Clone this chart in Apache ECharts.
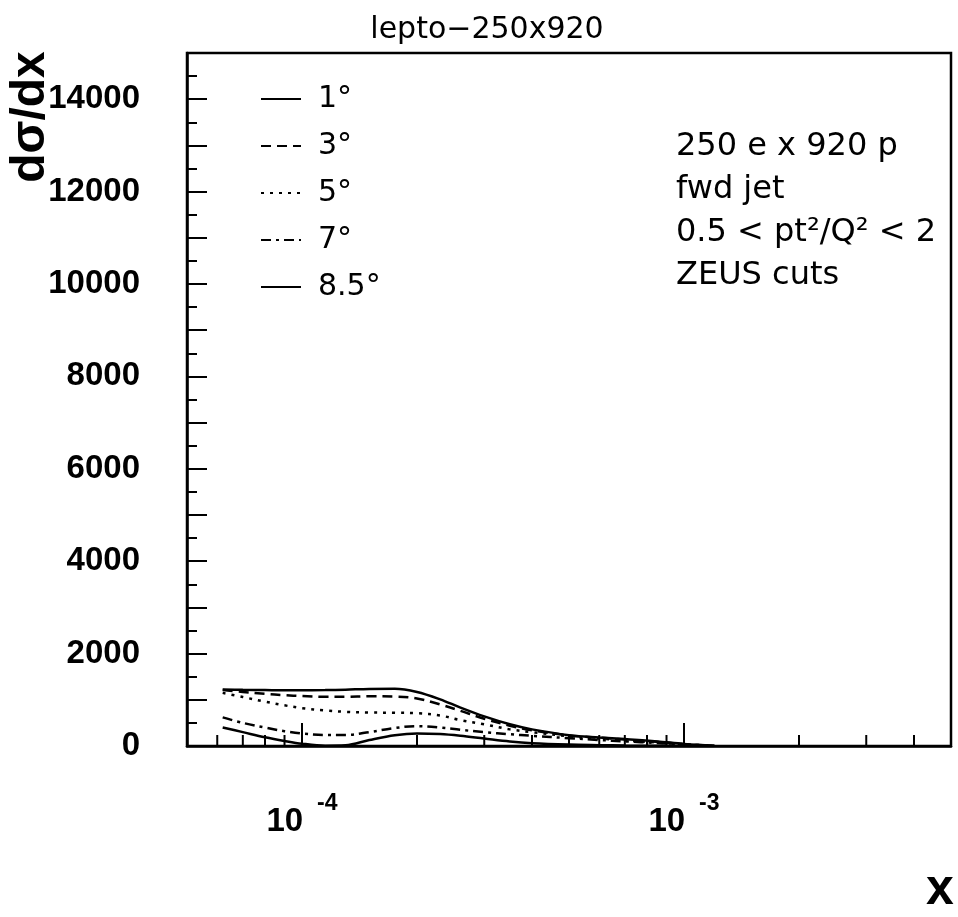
<!DOCTYPE html>
<html>
<head>
<meta charset="utf-8">
<script src="https://cdn.jsdelivr.net/npm/echarts@6/dist/echarts.min.js"></script>
<style>html,body{margin:0;padding:0;background:#fff;}#c{width:958px;height:917px;}</style>
</head>
<body>
<div id="c"></div>
<script>
// x values (bin positions) shared by all curves
const xValues = [6.2e-5, 7e-5, 8e-5, 9e-5, 1e-4, 1.15e-4, 1.3e-4, 1.5e-4, 1.75e-4, 2e-4, 2.3e-4, 2.6e-4, 3e-4, 3.5e-4, 4e-4, 5e-4, 6e-4, 7e-4, 8.5e-4, 1e-3, 1.2e-3];
const seriesNames = ['1°', '3°', '5°', '7°', '8.5°'];
const y1deg  = [1225,1215,1210,1205,1205,1210,1220,1235,1240,1170,1010,830,640,470,360,235,185,150,100,45,5];
const y3deg  = [1210,1170,1130,1100,1080,1065,1065,1075,1070,1030,900,760,590,440,340,230,180,140,90,40,5];
const y5deg  = [1150,1060,960,880,820,770,740,725,720,710,660,560,470,360,300,210,160,120,75,35,5];
const y7deg  = [620,500,400,320,270,240,240,300,390,430,400,350,300,255,220,170,130,100,65,30,5];
const y85deg = [400,300,190,110,50,8,15,130,235,272,258,220,160,97,60,30,18,10,5,2,0];
const xMinorTicks = [6e-5,7e-5,8e-5,9e-5,2e-4,3e-4,4e-4,5e-4,6e-4,7e-4,8e-4,9e-4,2e-3,3e-3,4e-3];
const yLabelValues = [0,2000,4000,6000,8000,10000,12000,14000];
const infoLines = ['250 e x 920 p', 'fwd jet', '0.5 < pt²/Q² < 2', 'ZEUS cuts'];
const titleText = 'lepto\u2212250x920';

const allY = [y1deg, y3deg, y5deg, y7deg, y85deg];
const dashTypes = ['solid', [10, 6], [3, 6], [10, 5, 3, 5], 'solid'];

const chart = echarts.init(document.getElementById('c'), null, {renderer: 'canvas'});

const lineSeries = seriesNames.map((name, i) => ({
  name: name,
  type: 'line',
  data: xValues.map((x, j) => [x, allY[i][j]]),
  smooth: 0.35,
  symbol: 'none',
  lineStyle: {color: '#000', width: 2.5, type: dashTypes[i]},
  itemStyle: {color: '#000'},
  z: 3
}));

const option = {
  backgroundColor: '#fff',
  animation: false,
  grid: {left: 187, right: 7, top: 53, bottom: 171, show: true, borderColor: '#000', borderWidth: 2.5, backgroundColor: 'transparent'},
  legend: {
    data: seriesNames,
    orient: 'vertical',
    left: 260,
    top: 84,
    padding: 0,
    itemWidth: 40,
    itemHeight: 14,
    itemGap: 17,
    selectedMode: false,
    itemStyle: {opacity: 0},
    textStyle: {fontFamily: 'DejaVu Sans', fontSize: 30, color: '#000', lineHeight: 30, padding: [0, 0, 0, 12]}
  },
  xAxis: {
    type: 'log',
    logBase: 10,
    min: 5e-5,
    max: 5e-3,
    axisLine: {show: true, lineStyle: {color: '#000', width: 2.5}},
    axisTick: {show: true, inside: true, length: 23, lineStyle: {color: '#000', width: 2}},
    splitLine: {show: false},
    axisLabel: {
      margin: 46,
      formatter: function (v) {
        const e = Math.log10(v);
        if (Math.abs(e - Math.round(e)) > 1e-6) return '';
        return '{b|10}{s|' + Math.round(e) + '}';
      },
      rich: {
        b: {fontFamily: 'Liberation Sans', fontWeight: 'bold', fontSize: 33, color: '#000', lineHeight: 46, verticalAlign: 'bottom'},
        s: {fontFamily: 'Liberation Sans', fontWeight: 'bold', fontSize: 23, color: '#000', lineHeight: 22, verticalAlign: 'top', padding: [0, 0, 0, 14]}
      }
    }
  },
  yAxis: {
    type: 'value',
    min: 0,
    max: 15000,
    interval: 1000,
    axisLine: {show: true, lineStyle: {color: '#000', width: 2.5}},
    axisTick: {show: true, inside: true, length: 20, lineStyle: {color: '#000', width: 2}},
    minorTick: {show: true, splitNumber: 2, length: 10, lineStyle: {color: '#000', width: 2}},
    splitLine: {show: false},
    minorSplitLine: {show: false},
    axisLabel: {
      margin: 47,
      fontFamily: 'Liberation Sans',
      fontWeight: 'bold',
      fontSize: 33,
      color: '#000',
      formatter: function (v) { return yLabelValues.indexOf(v) >= 0 ? String(v) : ''; }
    }
  },
  series: lineSeries.concat([{
    type: 'custom',
    name: 'minorX',
    data: xMinorTicks.map(x => [x, 0]),
    silent: true,
    z: 4,
    renderItem: function (params, api) {
      const p = api.coord([api.value(0), api.value(1)]);
      return {type: 'line', shape: {x1: p[0], y1: p[1], x2: p[0], y2: p[1] - 11}, style: {stroke: '#000', lineWidth: 2}};
    }
  }]),
  graphic: [
    {type: 'text', x: 487, y: 30, style: {text: titleText, fontFamily: 'DejaVu Sans', fontSize: 30, fill: '#000', align: 'center', verticalAlign: 'middle'}},
    {type: 'text', x: 31, y: 117, rotation: Math.PI / 2, style: {text: 'dσ/dx', fontFamily: 'Liberation Sans', fontWeight: 'bold', fontSize: 48, fill: '#000', align: 'center', verticalAlign: 'middle'}},
    {type: 'text', x: 940, y: 890, style: {text: 'x', fontFamily: 'Liberation Sans', fontWeight: 'bold', fontSize: 50, fill: '#000', align: 'center', verticalAlign: 'middle'}}
  ].concat(infoLines.map((t, i) => ({
    type: 'text', x: 676, y: 147 + i * 43,
    style: {text: t, fontFamily: 'DejaVu Sans', fontSize: 32, fill: '#000', align: 'left', verticalAlign: 'middle'}
  })))
};
chart.setOption(option);
</script>
</body>
</html>
